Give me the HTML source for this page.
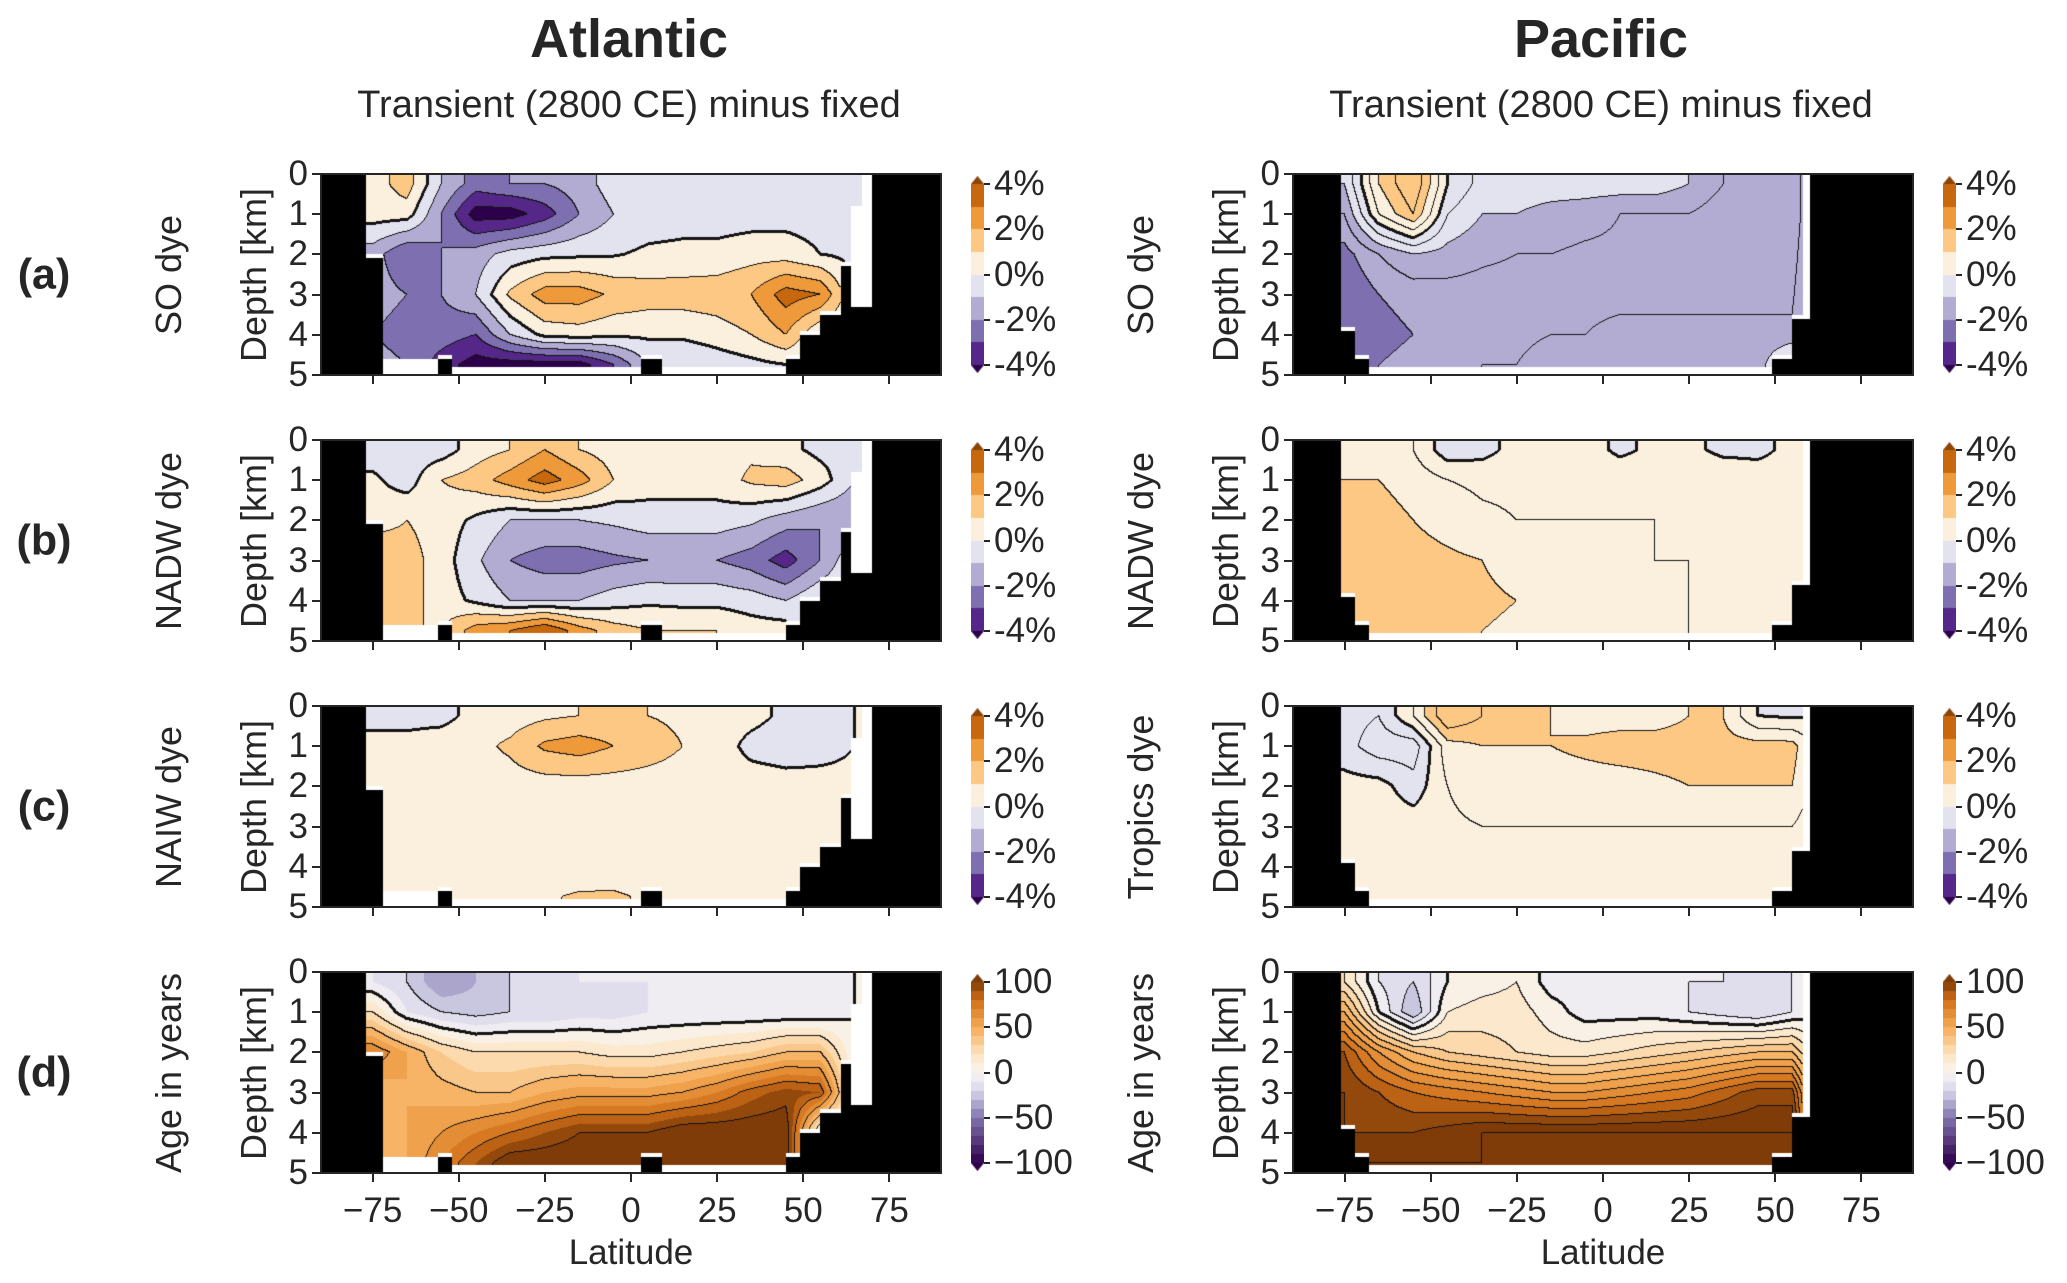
<!DOCTYPE html>
<html><head><meta charset="utf-8">
<style>
body{margin:0;width:2067px;height:1283px;background:#fff;position:relative;overflow:hidden;font-family:"Liberation Sans",sans-serif;color:#262626}
.t{position:absolute;white-space:nowrap}
.rot{position:absolute;white-space:nowrap;transform:translate(-50%,-50%) rotate(-90deg)}
canvas{position:absolute}
.frame{position:absolute;border:2px solid #262626;box-sizing:border-box}
</style></head><body>
<div class="t" style="left:629px;top:8px;transform:translateX(-50%);font-size:54px;font-weight:bold">Atlantic</div>
<div class="t" style="left:1601px;top:8px;transform:translateX(-50%);font-size:54px;font-weight:bold">Pacific</div>
<div class="t" style="left:629px;top:84px;transform:translateX(-50%);font-size:38px">Transient (2800 CE) minus fixed</div>
<div class="t" style="left:1601px;top:84px;transform:translateX(-50%);font-size:38px">Transient (2800 CE) minus fixed</div>
<div id="root"></div>
<script>
// ---- data ----
const lats=[-75,-65,-55,-45,-35,-25,-15,-5,5,15,25,35,45,55,65];
const depths=[0.25,1,2,3,4,4.75];
const atlSO=[
[0.5,1.5,-1,-2.5,-2,-2,-1.5,-0.5,-0.4,-0.4,-0.4,-0.3,-0.3,-0.3,-0.3],
[0.5,0.5,-2,-4.5,-4.5,-3.5,-2,-1,-0.6,-0.5,-0.5,-0.5,-0.4,-0.4,-0.4],
[-1.5,-3,-2,-1.5,-0.6,-0.3,-0.2,-0.1,0.2,0.3,0.3,0.6,0.5,0,-0.3],
[-1.5,-2,-2,-1,1.2,2.5,2.5,1.8,1.5,1.5,1.6,2,3.5,3,0],
[-2,-2.5,-2.5,-3,-1,0.3,0.5,0.2,0.2,0.2,0.5,1,2,0,0],
[-1.5,-2,-3.5,-4.5,-4.5,-4.5,-4.5,-3,-1,-1,-0.6,-0.3,0,0,0]];
const atlNADW=[
[-0.5,-0.5,-0.5,0.5,1,2,1,0.5,0.5,0.5,0.5,0.8,0.3,-0.3,-0.3],
[0.2,-0.5,1,1.5,2.5,3.5,2.5,1,0.5,0.5,0.5,1.2,1.5,0.5,-1],
[0.5,1,0.5,-0.2,-1,-1,-1,-0.8,-0.5,-0.5,-0.5,-0.8,-1.5,-2,-2],
[2,1.5,0.5,-0.8,-2,-2.5,-2.5,-2.2,-2,-2,-2,-2.5,-3.5,-2,0],
[1.5,1.5,0.5,-0.2,-1,-1,-1,-0.5,-0.2,-0.3,-0.3,-0.5,-1,0,0],
[1,1,1,2.5,3,4,2.5,1.5,1,1,1,0.5,0.5,0,0]];
const atlNAIW=[
[-0.3,-0.3,-0.3,0.3,0.5,0.8,1,1.2,1,0.8,0.5,0.3,-0.2,-0.3,0],
[0.3,0.3,0.5,0.7,1.2,2.2,2.5,2,1.5,1,0.5,-0.3,-0.5,-0.3,0],
[0.5,0.5,0.5,0.5,0.5,0.5,0.5,0.5,0.5,0.5,0.5,0.5,0.4,0.3,0.2],
[0.5,0.5,0.5,0.5,0.5,0.5,0.5,0.5,0.5,0.5,0.5,0.5,0.5,0.5,0.3],
[0.5,0.5,0.5,0.5,0.5,0.5,0.5,0.6,0.6,0.5,0.5,0.5,0.5,0.5,0.3],
[0.6,0.6,0.6,0.7,0.8,0.9,1.1,1.1,0.9,0.7,0.6,0.5,0.5,0.5,0.3]];
const atlAge=[
[-10,-20,-40,-30,-20,-15,-10,-10,-10,-10,-10,-10,-5,-5,0],
[20,-10,-20,-25,-20,-20,-15,-15,-10,-10,-10,-10,-10,-10,0],
[70,50,30,20,20,20,20,15,15,20,25,30,40,40,0],
[40,50,45,40,40,50,55,55,55,60,70,85,95,90,0],
[40,50,60,70,80,90,100,100,100,110,110,110,110,0,0],
[40,50,70,90,110,110,110,110,110,110,110,110,110,0,0]];
const pacSO=[
[-1,1,2,0,-0.7,-0.7,-0.7,-0.7,-0.7,-0.7,-1,-1.5,-2,-2,0],
[-1.5,0.5,1.5,-0.5,-1,-1,-1.2,-1.3,-1.5,-1.5,-1.5,-1.8,-2,-2,0],
[-2.2,-1.5,-1,-1.2,-1.4,-1.5,-1.5,-1.6,-1.6,-1.6,-1.6,-1.7,-1.8,-1.8,0],
[-2.5,-2,-1.8,-1.7,-1.7,-1.7,-1.6,-1.6,-1.6,-1.6,-1.6,-1.6,-1.6,-1.6,0],
[-2.5,-2.2,-2,-1.8,-1.7,-1.6,-1.5,-1.5,-1.4,-1.4,-1.4,-1.4,-1.4,-1.4,0],
[-2.5,-2,-1.8,-1.6,-1.5,-1.5,-1.3,-1.3,-1.3,-1.3,-1.3,-1.3,-1.3,0,0]];
const pacNADW=[
[0.5,1,0.5,-0.3,-0.2,0.2,0.2,0.2,-0.1,0.1,0.1,-0.1,-0.1,0.1,0],
[1,1,0.8,0.5,0.4,0.4,0.4,0.4,0.3,0.3,0.3,0.3,0.2,0.2,0],
[1.2,1.2,1,0.8,0.6,0.5,0.5,0.5,0.5,0.5,0.4,0.4,0.3,0.3,0],
[1.3,1.3,1.2,1.1,1,0.8,0.6,0.5,0.5,0.5,0.5,0.4,0.4,0.4,0],
[1.3,1.3,1.2,1.1,1.1,1,0.8,0.6,0.5,0.5,0.5,0.4,0.4,0.4,0],
[1.2,1.2,1.2,1.1,1,0.9,0.8,0.7,0.6,0.5,0.5,0.4,0.4,0,0]];
const pacTrop=[
[-0.3,-0.5,0.5,2,1.5,1.2,1,0.8,0.8,0.8,1,1,0,-0.1,0],
[-0.3,-0.8,-0.8,0.8,1,1,1,1.1,1.2,1.2,1.2,1.2,1.2,1.2,0],
[0.2,0.2,-0.3,0.5,0.8,0.8,0.8,0.8,0.8,0.9,1,1,1,1,0],
[0.3,0.3,0.3,0.4,0.5,0.5,0.5,0.5,0.5,0.5,0.5,0.5,0.5,0.5,0],
[0.3,0.3,0.3,0.3,0.3,0.3,0.3,0.3,0.3,0.3,0.3,0.3,0.3,0.3,0],
[0.3,0.3,0.3,0.3,0.3,0.3,0.3,0.3,0.3,0.3,0.3,0.3,0.3,0.3,0]];
const pacAge=[
[20,-10,-20,0,5,10,-5,-5,-5,-5,-10,-10,-20,-10,0],
[50,0,-30,10,15,15,5,-5,-5,-5,-10,-15,-20,-10,0],
[90,60,40,30,25,20,15,15,20,25,30,35,40,40,0],
[100,90,80,75,70,65,60,60,65,70,75,85,95,95,0],
[100,100,100,105,110,110,110,110,110,110,110,110,110,110,0],
[110,110,110,110,110,110,110,110,110,110,110,110,110,110,0]];
// bathymetry: [latStart, latEnd, blackTop(km), colorBottom(km)]
const atlMask=[[-90,-77,0,0],[-77,-72,2.1,2.0],[-72,-56,5,4.6],[-56,-52,4.6,4.5],[-52,3,5,4.8],[3,9,4.6,4.5],[9,45,5,4.8],[45,49,4.6,4.5],[49,55,4.0,3.9],[55,61,3.5,3.4],[61,64,2.3,2.2],[64,67,3.3,0.8],[67,70,3.3,0],[70,90,0,0]];
const pacMask=[[-90,-76,0,0],[-76,-72,3.9,3.8],[-72,-68,4.6,4.5],[-68,49,5,4.8],[49,55,4.6,4.5],[55,58,3.6,3.5],[58,60,3.6,0],[60,90,0,0]];
const latTicks=[-75,-50,-25,0,25,50,75];
const depthTicks=[0,1,2,3,4,5];
const dyeTicks=[4,2,0,-2,-4];
const ageTicks=[100,50,0,-50,-100];

// ---- rendering ----
const rowTop=[174,440,706,972], colLeft=[321,1293], W=620, H=201;
const root=document.getElementById('root');
const dyeCols={'-5':'#2d004b','-4':'#542788','-3':'#7d6fb0','-2':'#b2abd2','-1':'#e3e2ef','0':'#fbefdd','1':'#fdc784','2':'#ee9a3a','3':'#c7680f','4':'#8a4508'};
function hex(h){return [parseInt(h.substr(1,2),16),parseInt(h.substr(3,2),16),parseInt(h.substr(5,2),16)];}
const ageStops=[[-100,'#2d004b'],[-50,'#8073ac'],[-20,'#d8d6ea'],[0,'#f7f5f3'],[20,'#fde3bf'],[50,'#f6ab55'],[80,'#cf6f18'],[100,'#7f3b08']];
function ageColor(v){
  if(v<=-100)return hex(ageStops[0][1]); if(v>=100)return hex(ageStops[7][1]);
  for(let i=0;i<ageStops.length-1;i++){const a=ageStops[i],b=ageStops[i+1];
    if(v>=a[0]&&v<=b[0]){const t=(v-a[0])/(b[0]-a[0]);const A=hex(a[1]),B=hex(b[1]);return A.map((x,k)=>Math.round(x+(B[k]-x)*t));}}
  return [255,255,255];
}
function colorFor(v,age){
  if(age){const q=Math.floor(v/10)*10+5;return ageColor(Math.max(-105,Math.min(105,q)));}
  const k=Math.max(-5,Math.min(4,Math.floor(v)));return hex(dyeCols[k]);
}
function interp(grid,lat,dep){
  function idx(arr,x){if(x<=arr[0])return[0,0,0];if(x>=arr[arr.length-1])return[arr.length-1,arr.length-1,0];
    for(let i=0;i<arr.length-1;i++)if(x>=arr[i]&&x<=arr[i+1])return[i,i+1,(x-arr[i])/(arr[i+1]-arr[i])];}
  const [i0,i1,tx]=idx(lats,lat),[j0,j1,ty]=idx(depths,dep);
  const a=grid[j0][i0]*(1-tx)+grid[j0][i1]*tx,b=grid[j1][i0]*(1-tx)+grid[j1][i1]*tx;
  return a*(1-ty)+b*ty;
}
function maskAt(mask,lat,dep){
  for(const s of mask){if(lat>=s[0]&&lat<s[1]){if(dep>=s[2])return 2;if(dep>s[3])return 1;return 0;}}
  return 2;
}
function txt(name,s,x,y,size,extra){const d=document.createElement('div');d.className='t';
  
  
  d.textContent=s;d.style.cssText=`left:${x}px;top:${y}px;font-size:${size}px;`+(extra||'');root.appendChild(d);return d;}

const panels=[
 {c:0,r:0,g:atlSO,m:atlMask,age:false,step:1,lab:'SO dye'},
 {c:0,r:1,g:atlNADW,m:atlMask,age:false,step:1,lab:'NADW dye'},
 {c:0,r:2,g:atlNAIW,m:atlMask,age:false,step:1,lab:'NAIW dye'},
 {c:0,r:3,g:atlAge,m:atlMask,age:true,step:20,lab:'Age in years'},
 {c:1,r:0,g:pacSO,m:pacMask,age:false,step:0.5,lab:'SO dye'},
 {c:1,r:1,g:pacNADW,m:pacMask,age:false,step:0.5,lab:'NADW dye'},
 {c:1,r:2,g:pacTrop,m:pacMask,age:false,step:0.5,lab:'Tropics dye'},
 {c:1,r:3,g:pacAge,m:pacMask,age:true,step:10,lab:'Age in years'}];
const rowLetters=['(a)','(b)','(c)','(d)'];
rowLetters.forEach((s,r)=>{txt('row-label-'+s[1],s,44,rowTop[r]+H/2,43,'font-weight:bold;transform:translate(-50%,-50%)');});

panels.forEach(p=>{
  const L=colLeft[p.c],T=rowTop[p.r];
  const cv=document.createElement('canvas');cv.width=W;cv.height=H;
  
  
  cv.style.left=L+'px';cv.style.top=T+'px';root.appendChild(cv);
  const ctx=cv.getContext('2d');const img=ctx.createImageData(W,H);
  const vals=new Float32Array(W*H),ms=new Uint8Array(W*H);
  for(let y=0;y<H;y++)for(let x=0;x<W;x++){
    const lat=-90+(x+0.5)/W*180,dep=(y+0.5)/H*5;const m=maskAt(p.m,lat,dep);ms[y*W+x]=m;
    let c=[255,255,255];
    if(m===2)c=[0,0,0];else if(m===0){const v=interp(p.g,lat,dep);vals[y*W+x]=v;c=colorFor(v,p.age);}
    const o=(y*W+x)*4;img.data[o]=c[0];img.data[o+1]=c[1];img.data[o+2]=c[2];img.data[o+3]=255;}
  function dark(x,y){if(x<0||y<0||x>=W||y>=H)return;if(ms[y*W+x]!==0)return;const o=(y*W+x)*4;img.data[o]=img.data[o+1]=img.data[o+2]=20;}
  for(let y=0;y<H;y++)for(let x=0;x<W;x++){
    const i=y*W+x;if(ms[i]!==0)continue;const a=vals[i];
    [[1,0],[0,1]].forEach(([dx,dy])=>{const xx=x+dx,yy=y+dy;if(xx>=W||yy>=H)return;const j=yy*W+xx;if(ms[j]!==0)return;const b=vals[j];
      if(Math.floor(a/p.step)!==Math.floor(b/p.step)){dark(x,y);
        if(Math.min(a,b)<0&&Math.max(a,b)>=0){dark(x+1,y);dark(x,y+1);dark(x-1,y);dark(x,y-1);}}});}
  ctx.putImageData(img,0,0);
  const fr=document.createElement('div');fr.className='frame';
  
  
  fr.style.cssText=`left:${L-1}px;top:${T-1}px;width:${W+2}px;height:${H+2}px`;root.appendChild(fr);
  depthTicks.forEach(d=>{const y=T+d/5*H;
    const tk=document.createElement('div');
    
    
    tk.style.cssText=`position:absolute;left:${L-9}px;top:${y-1}px;width:8px;height:2px;background:#262626`;root.appendChild(tk);
    txt('y-tick-label',String(d),L-13,y,35,'transform:translate(-100%,-50%)');});
  latTicks.forEach(v=>{const x=L+(v+90)/180*W;
    const tk=document.createElement('div');
    
    
    tk.style.cssText=`position:absolute;left:${x-1}px;top:${T+H}px;width:2px;height:9px;background:#262626`;root.appendChild(tk);
    if(p.r===3)txt('x-tick-label',(v<0?'\u2212':'')+Math.abs(v),x,T+H+38,35,'transform:translate(-50%,-50%)');});
  const r1=document.createElement('div');r1.className='rot';
  
  
  r1.textContent='Depth [km]';r1.style.cssText=`left:${L-67}px;top:${T+H/2}px;font-size:36px`;root.appendChild(r1);
  const r2=document.createElement('div');r2.className='rot';
  
  
  r2.textContent=p.lab;r2.style.cssText=`left:${L-152}px;top:${T+H/2}px;font-size:36px`;root.appendChild(r2);
  if(p.r===3)txt('x-axis-title','Latitude',L+W/2,T+H+80,35,'transform:translate(-50%,-50%)');
  const cbx=L+650,cbT=T+10,cbH=H-20,cbW=13;
  const cb=document.createElement('canvas');cb.width=cbW;cb.height=cbH+16;
  
  
  cb.style.left=cbx+'px';cb.style.top=(cbT-8)+'px';root.appendChild(cb);
  const c2=cb.getContext('2d');
  const lo=p.age?-100:-4,hi=p.age?100:4;
  for(let y=0;y<cbH;y++){const v=hi-(y+0.5)/cbH*(hi-lo);const c=colorFor(v,p.age);c2.fillStyle=`rgb(${c})`;c2.fillRect(0,y+8,cbW,1);}
  let c=colorFor(hi+1,p.age);c2.fillStyle=`rgb(${c})`;c2.beginPath();c2.moveTo(0,8);c2.lineTo(cbW/2,0);c2.lineTo(cbW,8);c2.fill();
  c=colorFor(lo-1,p.age);c2.fillStyle=`rgb(${c})`;c2.beginPath();c2.moveTo(0,cbH+8);c2.lineTo(cbW/2,cbH+16);c2.lineTo(cbW,cbH+8);c2.fill();
  (p.age?ageTicks:dyeTicks).forEach(v=>{const y=cbT+(hi-v)/(hi-lo)*cbH;
    const tk=document.createElement('div');
    
    
    tk.style.cssText=`position:absolute;left:${cbx+cbW}px;top:${y-1}px;width:6px;height:2px;background:#262626`;root.appendChild(tk);
    const s=p.age?((v<0?'\u2212':'')+Math.abs(v)):(v+'%');
    txt('colorbar-tick-label',s,cbx+cbW+10,y,35,'transform:translateY(-50%)');});
});
</script>
</body></html>
